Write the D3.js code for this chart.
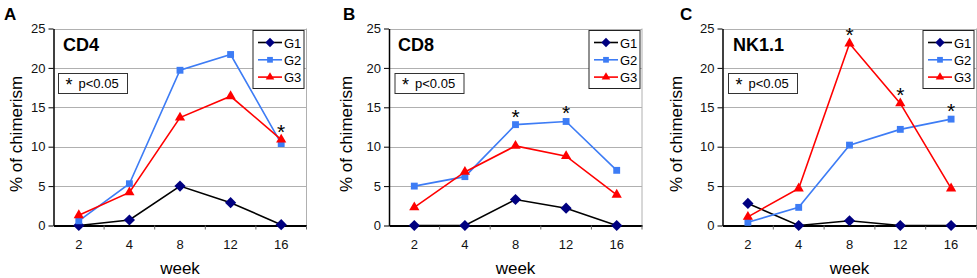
<!DOCTYPE html>
<html>
<head>
<meta charset="utf-8">
<script src="https://cdn.jsdelivr.net/npm/d3@7"></script>
<style>
  body { margin: 0; background: #fff; }
  svg { display: block; font-family: "Liberation Sans", Arial, sans-serif; }
</style>
</head>
<body>
<svg width="977" height="278"></svg>
<script>
// weeks on the x axis
const weeks = ['2', '4', '8', '12', '16'];
const yTicks = [0, 5, 10, 15, 20, 25];
const groups = ['G1', 'G2', 'G3'];

// % of chimerism
const cd4G1 = [0, 0.7, 5.0, 2.9, 0.1];
const cd4G2 = [0.6, 5.3, 19.7, 21.7, 10.4];
const cd4G3 = [1.3, 4.2, 13.7, 16.4, 10.9];

const cd8G1 = [0, 0, 3.3, 2.2, 0];
const cd8G2 = [5.0, 6.2, 12.8, 13.2, 7.0];
const cd8G3 = [2.3, 6.8, 10.1, 8.8, 3.9];

const nkG1 = [2.8, 0, 0.6, 0, 0];
const nkG2 = [0.4, 2.3, 10.2, 12.2, 13.5];
const nkG3 = [1.1, 4.7, 23.1, 15.5, 4.7];

// significance stars: [week index, value the star sits on]
const cd4Stars = [[4, 10.9]];
const cd8Stars = [[2, 12.8], [3, 13.2]];
const nkStars = [[2, 23.1], [3, 15.5], [4, 13.5]];

const panels = [
  {letter: 'A', title: 'CD4', series: [cd4G1, cd4G2, cd4G3], stars: cd4Stars, left: 53.5, right: 306.5, letterX: 4, titleX: 63, yLabX: 22, pBox: 58.5, legX: 253},
  {letter: 'B', title: 'CD8', series: [cd8G1, cd8G2, cd8G3], stars: cd8Stars, left: 389, right: 642, letterX: 343, titleX: 398, yLabX: 352, pBox: 395, legX: 589},
  {letter: 'C', title: 'NK1.1', series: [nkG1, nkG2, nkG3], stars: nkStars, left: 722.5, right: 976.5, letterX: 680, titleX: 733, yLabX: 682, pBox: 728.5, legX: 923}
];

const colors = ['#000080', '#3d7cf5', '#ff0000'];
const lineColors = ['#000000', '#3d7cf5', '#ff0000'];
const symbols = [d3.symbolDiamond2, d3.symbolSquare2, d3.symbolTriangle2];
const symSizes = [80, 60, 75];

const TOP = 28.5, BOTTOM = 225.5;
const svg = d3.select('svg');

function drawPanel(p) {
  const g = svg.append('g');
  const x = d3.scaleBand().domain(weeks).range([p.left, p.right]);
  const y = d3.scaleLinear().domain([0, 25]).range([BOTTOM, TOP]);
  const cx = d => x(d) + x.bandwidth() / 2;

  // grid lines
  g.selectAll('.grid').data(yTicks.filter(t => t > 0)).enter().append('line')
    .attr('x1', p.left).attr('x2', p.right)
    .attr('y1', d => Math.round(y(d)) + 0.5).attr('y2', d => Math.round(y(d)) + 0.5)
    .attr('stroke', '#b0b0b0').attr('stroke-width', 1);
  // right border
  g.append('line').attr('x1', p.right).attr('x2', p.right).attr('y1', TOP).attr('y2', BOTTOM)
    .attr('stroke', '#b0b0b0');

  // y axis
  const yAxis = g.append('g').attr('transform', `translate(${p.left},0)`)
    .call(d3.axisLeft(y).tickValues(yTicks).tickSize(5).tickSizeOuter(0));
  yAxis.select('.domain').attr('stroke', '#000').attr('stroke-width', 1.5);
  yAxis.selectAll('.tick line').attr('stroke', '#000');
  yAxis.selectAll('.tick text').attr('font-size', 13).attr('fill', '#111').attr('x', -8)
    .attr('font-family', '"Liberation Sans", Arial, sans-serif');

  // x axis with ticks between categories
  const xAxis = g.append('g').attr('transform', `translate(0,${BOTTOM})`)
    .call(d3.axisBottom(x).tickSize(0).tickPadding(14));
  xAxis.select('.domain').attr('stroke', '#000').attr('stroke-width', 2);
  xAxis.selectAll('.tick text').attr('font-size', 13).attr('fill', '#111')
    .attr('font-family', '"Liberation Sans", Arial, sans-serif');
  g.selectAll('.xt').data(weeks.slice(1).concat(['end'])).enter().append('line')
    .attr('x1', (d, i) => x(weeks[0]) + x.step() * (i + 1))
    .attr('x2', (d, i) => x(weeks[0]) + x.step() * (i + 1))
    .attr('y1', BOTTOM).attr('y2', BOTTOM + 4).attr('stroke', '#666');

  // series
  p.series.forEach((vals, si) => {
    const pts = vals.map((v, i) => [cx(weeks[i]), y(v)]);
    g.append('path').attr('d', d3.line()(pts)).attr('fill', 'none')
      .attr('stroke', lineColors[si]).attr('stroke-width', 1.6);
    g.selectAll('.m' + si).data(pts).enter().append('path')
      .attr('transform', d => `translate(${d[0]},${d[1]})`)
      .attr('d', d3.symbol().type(symbols[si]).size(symSizes[si]))
      .attr('fill', colors[si]);
  });

  // stars
  g.selectAll('.star').data(p.stars).enter().append('text')
    .attr('x', d => cx(weeks[d[0]]))
    .attr('y', d => y(d[1]) - 1)
    .attr('text-anchor', 'middle').attr('font-size', 21).attr('fill', '#000')
    .text('*');

  // panel letter and title
  g.append('text').attr('x', p.letterX).attr('y', 20).attr('font-size', 17)
    .attr('font-weight', 'bold').text(p.letter);
  g.append('text').attr('x', p.titleX).attr('y', 51).attr('font-size', 18)
    .attr('font-weight', 'bold').text(p.title);

  // p<0.05 box
  g.append('rect').attr('x', p.pBox).attr('y', 73.5).attr('width', 69).attr('height', 20)
    .attr('fill', '#fff').attr('stroke', '#333');
  g.append('text').attr('x', p.pBox + 7).attr('y', 91).attr('font-size', 18).text('*');
  g.append('text').attr('x', p.pBox + 20).attr('y', 88).attr('font-size', 13).text('p<0.05');

  // legend
  const lg = g.append('g').attr('transform', `translate(${p.legX},30.5)`);
  lg.append('rect').attr('width', 51).attr('height', 58).attr('fill', '#fff').attr('stroke', '#222');
  groups.forEach((name, i) => {
    const ly = 12 + i * 17.3;
    lg.append('line').attr('x1', 5).attr('x2', 29).attr('y1', ly).attr('y2', ly)
      .attr('stroke', lineColors[i]).attr('stroke-width', 1.6);
    lg.append('path').attr('transform', `translate(17,${ly})`)
      .attr('d', d3.symbol().type(symbols[i]).size(symSizes[i] * 0.7)).attr('fill', colors[i]);
    lg.append('text').attr('x', 31).attr('y', ly + 5).attr('font-size', 13).text(name);
  });

  // axis titles
  g.append('text').attr('x', (p.left + p.right) / 2).attr('y', 274)
    .attr('text-anchor', 'middle').attr('font-size', 17).text('week');
  g.append('text').attr('transform', `translate(${p.yLabX},134) rotate(-90)`)
    .attr('text-anchor', 'middle').attr('font-size', 17).text('% of chimerism');
}

panels.forEach(drawPanel);
</script>
</body>
</html>
